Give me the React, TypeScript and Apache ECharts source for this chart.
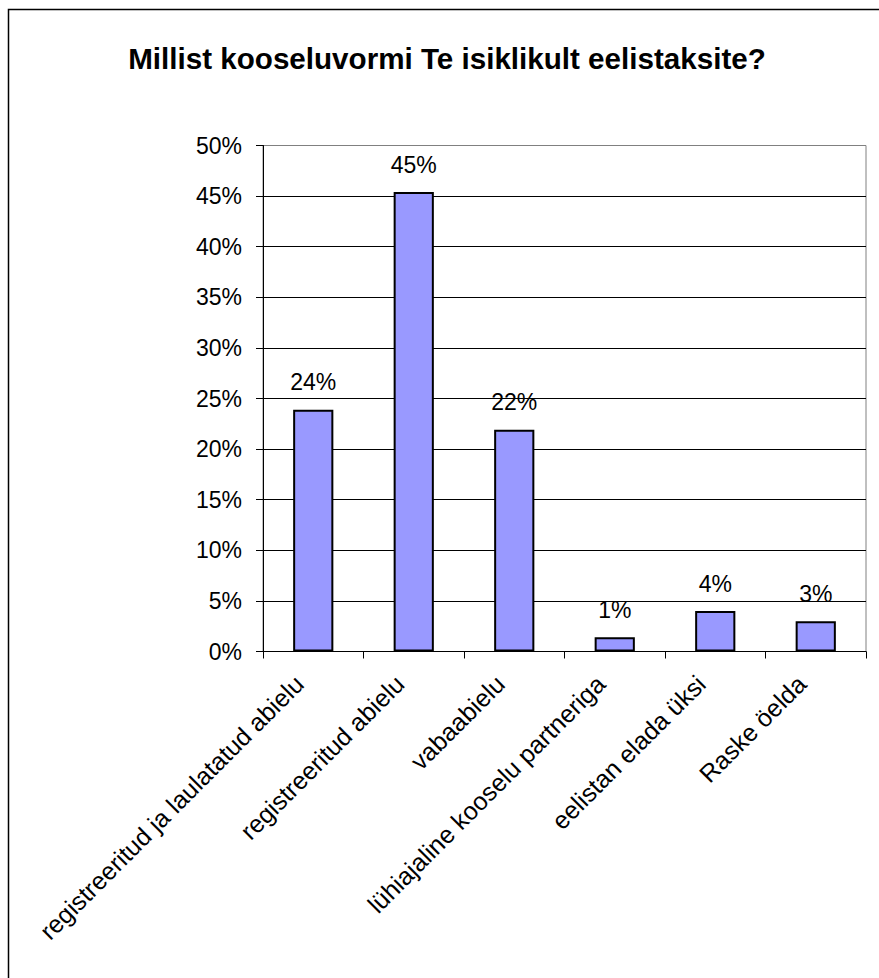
import React, { useEffect, useRef } from "react";
import * as echarts from "echarts";

const titleText = "Millist kooseluvormi Te isiklikult eelistaksite?";
const categories = [
  "registreeritud ja laulatatud abielu",
  "registreeritud abielu",
  "vabaabielu",
  "lühiajaline kooselu partneriga",
  "eelistan elada üksi",
  "Raske öelda",
];
const values = [23.9, 45.4, 21.9, 1.4, 4.0, 3.0];
const yMin = 0;
const yMax = 50;
const yStep = 5;

const FONT = "'Liberation Sans', Arial, sans-serif";

export default function App() {
  const ref = useRef<HTMLDivElement>(null);
  useEffect(() => {
    if (!ref.current) return;
    const chart = echarts.init(ref.current, null, { renderer: "svg" });
    chart.setOption({
      animation: false,
      backgroundColor: "#ffffff",
      textStyle: { fontFamily: FONT },
      title: {
        text: titleText,
        left: 442,
        top: 38,
        textAlign: "center",
        textStyle: {
          fontFamily: FONT,
          fontSize: 29.6,
          fontWeight: "bold",
          color: "#000",
          lineHeight: 30,
        },
      },
      graphic: [
        {
          type: "rect",
          shape: { x: 8.5, y: 9.5, width: 1000, height: 1100 },
          style: { fill: "none", stroke: "#000", lineWidth: 1.5 },
          silent: true,
          z: 100,
        },
      ],
      grid: {
        left: 263,
        top: 145.5,
        right: 13,
        bottom: 326.5,
        show: true,
        borderColor: "#808080",
        borderWidth: 1,
        containLabel: false,
      },
      xAxis: {
        type: "category",
        data: categories,
        boundaryGap: true,
        axisLine: { show: true, lineStyle: { color: "#000", width: 1 } },
        axisTick: {
          show: true,
          alignWithLabel: false,
          length: 7,
          lineStyle: { color: "#000", width: 1 },
        },
        axisLabel: {
          rotate: 45,
          interval: 0,
          margin: 14,
          padding: [0, 20, 0, 0],
          fontFamily: FONT,
          fontSize: 25,
          color: "#000",
        },
        splitLine: { show: false },
      },
      yAxis: {
        type: "value",
        min: yMin,
        max: yMax,
        interval: yStep,
        axisLine: { show: true, lineStyle: { color: "#000", width: 1 } },
        axisTick: {
          show: true,
          length: 7,
          lineStyle: { color: "#000", width: 1 },
        },
        axisLabel: {
          formatter: "{value}%",
          margin: 21,
          fontFamily: FONT,
          fontSize: 23,
          color: "#000",
        },
        splitLine: {
          show: true,
          showMaxLine: false,
          lineStyle: { color: "#000", width: 1 },
        },
      },
      series: [
        {
          type: "bar",
          data: values,
          barWidth: "40%",
          itemStyle: {
            color: "#9999FF",
            borderColor: "#000",
            borderWidth: 2,
          },
          label: {
            show: true,
            position: "top",
            distance: 16,
            fontFamily: FONT,
            fontSize: 23,
            color: "#000",
            formatter: (p: any) => Math.round(p.value) + "%",
          },
        },
      ],
    });
    return () => chart.dispose();
  }, []);
  return (
    <div
      ref={ref}
      style={{ position: "absolute", left: 0, top: 0, width: 879, height: 978 }}
    />
  );
}
